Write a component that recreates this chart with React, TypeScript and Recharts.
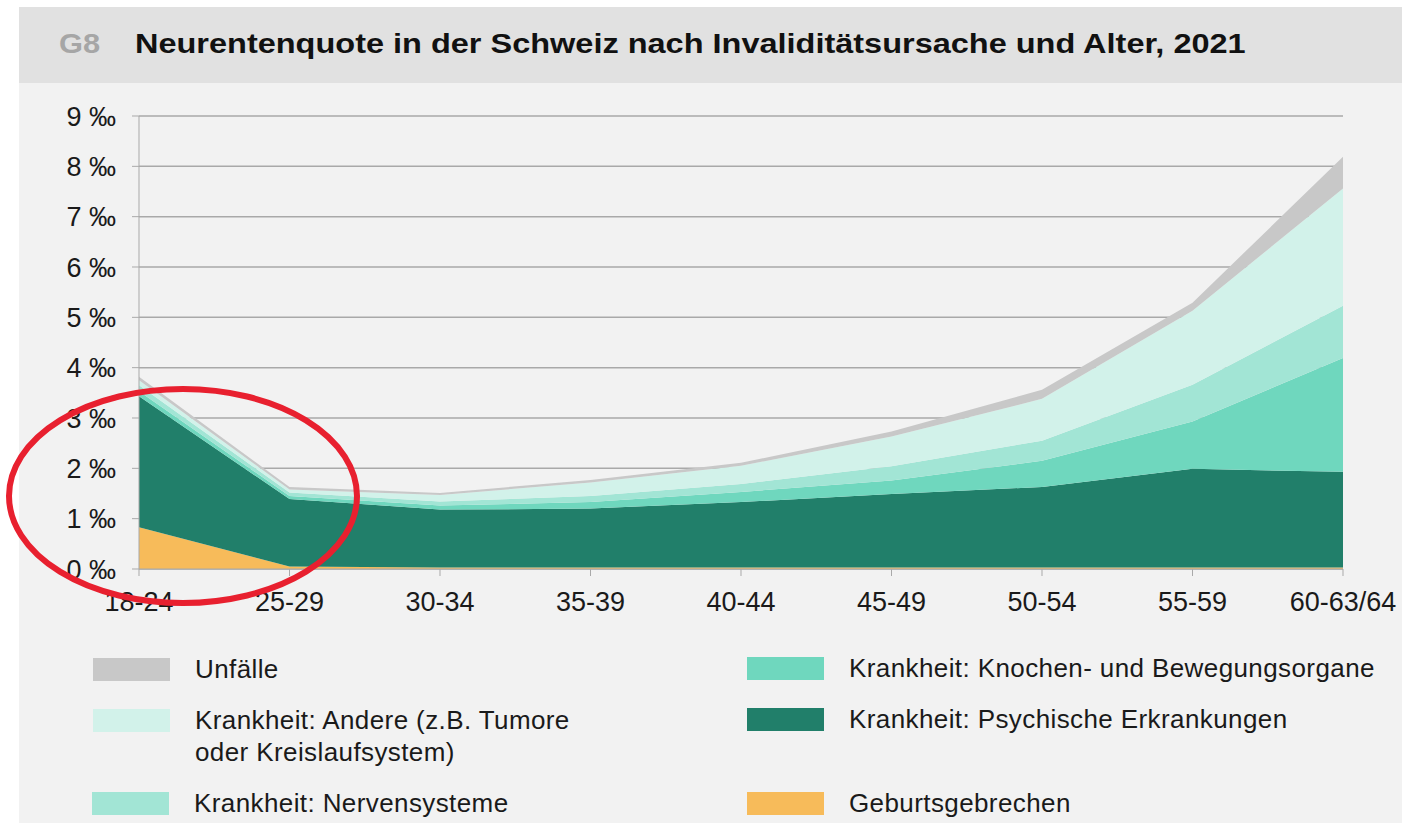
import { AreaChart, Area, XAxis, YAxis, CartesianGrid } from 'recharts';

const ages = ['18-24', '25-29', '30-34', '35-39', '40-44', '45-49', '50-54', '55-59', '60-63/64'];

// Neurentenquote in ‰, je Ursache (von unten nach oben gestapelt)
const geburtsgebrechen = [0.83, 0.05, 0.03, 0.03, 0.03, 0.03, 0.03, 0.03, 0.03];
const psychisch = [2.6, 1.34, 1.15, 1.17, 1.3, 1.46, 1.6, 1.96, 1.9];
const knochen = [0.1, 0.06, 0.08, 0.13, 0.2, 0.27, 0.52, 0.94, 2.26];
const nerven = [0.12, 0.07, 0.08, 0.12, 0.16, 0.28, 0.4, 0.73, 1.04];
const andere = [0.1, 0.06, 0.13, 0.27, 0.36, 0.59, 0.83, 1.47, 2.33];
const unfaelle = [0.07, 0.05, 0.04, 0.05, 0.06, 0.1, 0.18, 0.16, 0.63];

const yTicks = [0, 1, 2, 3, 4, 5, 6, 7, 8, 9];

const chartData = ages.map((age, i) => ({
  age,
  geburtsgebrechen: geburtsgebrechen[i],
  psychisch: psychisch[i],
  knochen: knochen[i],
  nerven: nerven[i],
  andere: andere[i],
  unfaelle: unfaelle[i],
}));

const FONT = '"Liberation Sans", Arial, sans-serif';

const colors = {
  unfaelle: '#c8c8c8',
  andere: '#d2f2ea',
  nerven: '#a2e5d5',
  knochen: '#6fd7be',
  psychisch: '#217f6a',
  geburtsgebrechen: '#f7bb5a',
};

const legendItems = [
  { key: 'unfaelle', lines: ['Unfälle'], x: 93, y: 658 },
  { key: 'andere', lines: ['Krankheit: Andere (z.B. Tumore', 'oder Kreislaufsystem)'], x: 93, y: 709 },
  { key: 'nerven', lines: ['Krankheit: Nervensysteme'], x: 92, y: 792 },
  { key: 'knochen', lines: ['Krankheit: Knochen- und Bewegungsorgane'], x: 747, y: 657 },
  { key: 'psychisch', lines: ['Krankheit: Psychische Erkrankungen'], x: 747, y: 708 },
  { key: 'geburtsgebrechen', lines: ['Geburtsgebrechen'], x: 747, y: 792 },
] as const;

export default function App() {
  return (
    <div
      style={{
        position: 'absolute',
        left: 0,
        top: 0,
        width: 1405,
        height: 826,
        background: '#ffffff',
        fontFamily: FONT,
        overflow: 'hidden',
      }}
    >
      <div style={{ position: 'absolute', left: 19, top: 7, width: 1383, height: 816, background: '#f2f2f2' }} />
      <div style={{ position: 'absolute', left: 19, top: 7, width: 1383, height: 76, background: '#e1e1e1' }} />
      <div
        style={{
          position: 'absolute',
          left: 59,
          top: 28,
          fontSize: 28,
          fontWeight: 'bold',
          color: '#a6a6a6',
          lineHeight: '32px',
          transform: 'scaleX(1.1)',
          transformOrigin: 'left center',
        }}
      >
        G8
      </div>
      <div
        style={{
          position: 'absolute',
          left: 135,
          top: 28,
          fontSize: 28,
          fontWeight: 'bold',
          color: '#111',
          lineHeight: '32px',
          whiteSpace: 'nowrap',
          transform: 'scaleX(1.16)',
          transformOrigin: 'left center',
        }}
      >
        Neurentenquote in der Schweiz nach Invaliditätsursache und Alter, 2021
      </div>

      <div style={{ position: 'absolute', left: 0, top: 0 }}>
        <AreaChart
          width={1405}
          height={640}
          data={chartData}
          margin={{ top: 116, right: 62, bottom: 31, left: 59 }}
        >
          <CartesianGrid vertical={false} stroke="#a9a9a9" strokeWidth={1.5} />
          <XAxis
            dataKey="age"
            interval={0}
            height={40}
            stroke="#a9a9a9"
            tickSize={7}
            tickMargin={16}
            tick={{ fontSize: 27, fill: '#1a1a1a', fontFamily: FONT }}
          />
          <YAxis
            width={80}
            domain={[0, 9]}
            ticks={yTicks}
            interval={0}
            stroke="#a9a9a9"
            tickSize={7}
            tickMargin={16}
            tickFormatter={(v: number) => `${v} ‰`}
            tick={{ fontSize: 27, fill: '#1a1a1a', fontFamily: FONT }}
          />
          <Area type="linear" dataKey="geburtsgebrechen" stackId="1" stroke="none" fill={colors.geburtsgebrechen} fillOpacity={1} isAnimationActive={false} />
          <Area type="linear" dataKey="psychisch" stackId="1" stroke="none" fill={colors.psychisch} fillOpacity={1} isAnimationActive={false} />
          <Area type="linear" dataKey="knochen" stackId="1" stroke="none" fill={colors.knochen} fillOpacity={1} isAnimationActive={false} />
          <Area type="linear" dataKey="nerven" stackId="1" stroke="none" fill={colors.nerven} fillOpacity={1} isAnimationActive={false} />
          <Area type="linear" dataKey="andere" stackId="1" stroke="none" fill={colors.andere} fillOpacity={1} isAnimationActive={false} />
          <Area type="linear" dataKey="unfaelle" stackId="1" stroke="none" fill={colors.unfaelle} fillOpacity={1} isAnimationActive={false} />
        </AreaChart>
      </div>

      {/* red highlight ellipse */}
      <svg
        width={1405}
        height={826}
        style={{ position: 'absolute', left: 0, top: 0, pointerEvents: 'none' }}
      >
        <ellipse cx={183} cy={496} rx={174} ry={107} fill="none" stroke="#e8202f" strokeWidth={6} />
      </svg>

      {legendItems.map((item) => (
        <div key={item.key}>
          <div
            style={{
              position: 'absolute',
              left: item.x,
              top: item.y,
              width: 77,
              height: 23,
              background: colors[item.key],
            }}
          />
          <div
            style={{
              position: 'absolute',
              left: item.x + 102,
              top: item.y - 5,
              fontSize: 26,
              letterSpacing: '0.4px',
              lineHeight: '32px',
              color: '#1a1a1a',
              whiteSpace: 'nowrap',
            }}
          >
            {item.lines.map((l) => (
              <div key={l}>{l}</div>
            ))}
          </div>
        </div>
      ))}
    </div>
  );
}
